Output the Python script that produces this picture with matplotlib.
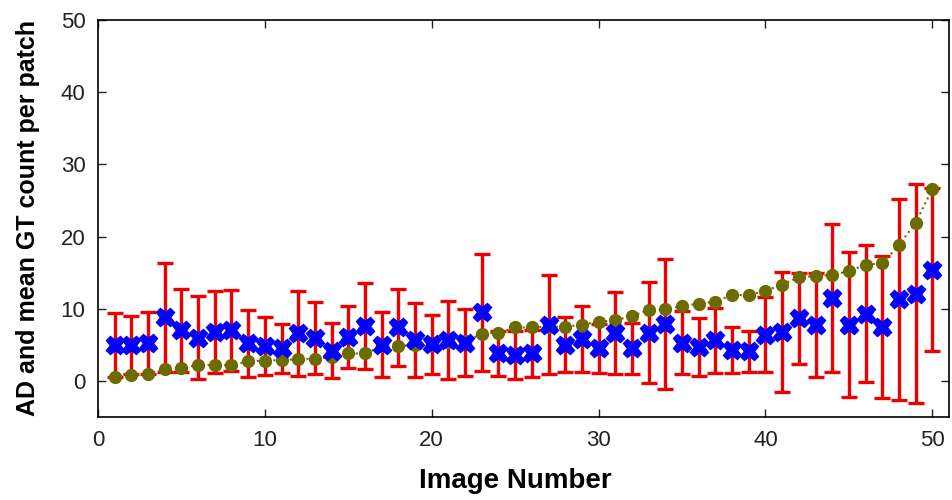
import matplotlib.pyplot as plt
import numpy as np

plt.rcParams['font.family'] = ['Liberation Sans', 'DejaVu Sans']

# per-image values
image_no = list(range(1, 51))
ad = [5.0, 5.0, 5.2, 8.8, 7.0, 6.0, 6.8, 7.0, 5.2, 4.8,
      4.5, 6.6, 5.9, 4.2, 6.1, 7.6, 5.0, 7.4, 5.7, 5.1,
      5.7, 5.3, 9.5, 3.8, 3.6, 3.8, 7.8, 5.0, 5.8, 4.5,
      6.6, 4.5, 6.7, 7.9, 5.3, 4.7, 5.6, 4.3, 4.1, 6.4,
      6.8, 8.7, 7.8, 11.5, 7.8, 9.3, 7.5, 11.3, 12.1, 15.4]
ad_std = [4.4, 4.0, 4.3, 7.5, 5.8, 5.8, 5.7, 5.6, 4.6, 4.0,
          3.4, 5.9, 5.0, 3.8, 4.3, 5.9, 4.5, 5.3, 5.1, 4.1,
          5.4, 4.6, 8.1, 3.1, 3.3, 3.2, 6.9, 3.8, 4.6, 3.4,
          5.7, 3.5, 7.0, 9.0, 4.4, 4.0, 4.5, 3.2, 2.8, 5.2,
          8.3, 6.3, 7.2, 10.2, 10.0, 9.5, 9.8, 13.9, 15.2, 11.3]
mean_gt = [0.6, 0.8, 1.0, 1.6, 1.8, 2.2, 2.2, 2.2, 2.7, 2.8,
           2.9, 3.0, 3.1, 3.3, 3.8, 3.8, 4.8, 4.8, 5.0, 5.0,
           5.4, 5.5, 6.5, 6.7, 7.4, 7.4, 7.5, 7.5, 7.8, 8.2,
           8.4, 9.0, 9.8, 9.9, 10.4, 10.7, 11.0, 11.9, 11.9, 12.5,
           13.3, 14.4, 14.5, 14.7, 15.2, 16.1, 16.3, 18.8, 21.9, 26.6]

fig = plt.figure(figsize=(9.52, 5.0), dpi=100)
ax = fig.add_axes([98 / 952, 83 / 500, 851 / 952, 397 / 500])

ax.errorbar(image_no, ad, yerr=ad_std, fmt='none', ecolor='#ee0000',
            elinewidth=2.4, capsize=5.5, capthick=2.4, zorder=2)
ax.plot(image_no, mean_gt, linestyle=':', color='#6b6b00', linewidth=1.5,
        marker='o', markersize=8.5, markerfacecolor='#6b6b00',
        markeredgecolor='#6b6b00', zorder=3)
ax.plot(image_no, ad, linestyle='none', marker='X', markersize=13,
        color='#0000ff', markeredgecolor='#0000ff', zorder=4)

ax.set_xlim(0, 51)
ax.set_ylim(-5, 50)
ax.set_xticks([0, 10, 20, 30, 40, 50])
ax.set_yticks([0, 10, 20, 30, 40, 50])
ax.tick_params(direction='in', length=6, width=1, top=True, right=True,
               labelsize=16, colors='#222222', pad=9)
for side in ax.spines.values():
    side.set_linewidth(1.2)

ax.set_xlabel('Image Number', fontsize=20, fontweight='bold')
ax.xaxis.set_label_coords(0.49, -0.128)
ax.set_ylabel('AD and mean GT count per patch', fontsize=18,
              fontweight='bold', labelpad=15)

fig.savefig('out.png', dpi=100)
